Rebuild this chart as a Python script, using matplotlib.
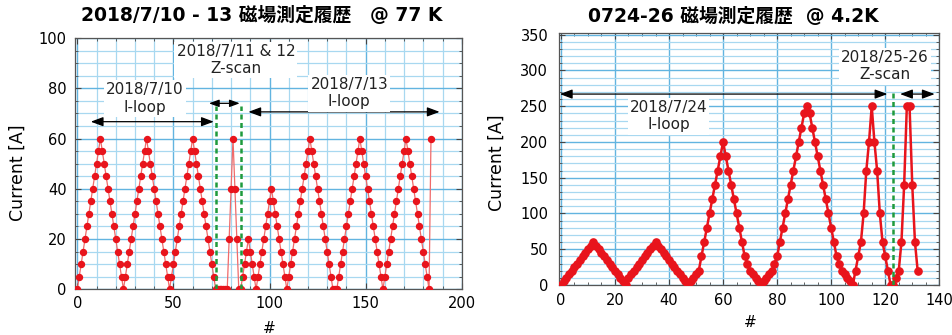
#! /usr/bin/env python3

import numpy as np
import matplotlib
matplotlib.use("Agg")
from matplotlib import pyplot as plt, ticker as mticker

plt.rcParams['font.family'] = ['DejaVu Sans', 'Noto Sans CJK JP']

# --- 2018/7/10 - 13 @ 77 K : current [A] for each measurement # ---
iloop_0710 = [0, 5, 10, 15, 20, 25, 30, 35, 40, 45, 50, 55, 60, 55, 50, 45, 40, 35, 30, 25, 20, 15, 10, 5, 0,
              5, 10, 15, 20, 25, 30, 35, 40, 45, 50, 55, 60, 55, 50, 45, 40, 35, 30, 25, 20, 15, 10, 5, 0,
              5, 10, 15, 20, 25, 30, 35, 40, 45, 50, 55, 60, 55, 50, 45, 40, 35, 30, 25, 20, 15, 10, 5, 0]
zscan_0711 = [0, 0, 0, 0, 0, 0, 20, 40, 60, 40, 20, 0, 0]
iloop_0713 = [5, 10, 15, 20, 15, 10, 5, 0,
              5, 10, 15, 20, 25, 30, 35, 40, 35, 30, 25, 20, 15, 10, 5, 0,
              5, 10, 15, 20, 25, 30, 35, 40, 45, 50, 55, 60, 55, 50, 45, 40, 35, 30, 25, 20, 15, 10, 5, 0, 0, 0,
              5, 10, 15, 20, 25, 30, 35, 40, 45, 50, 55, 60, 55, 50, 45, 40, 35, 30, 25, 20, 15, 10, 5, 0,
              5, 10, 15, 20, 25, 30, 35, 40, 45, 50, 55, 60, 55, 50, 45, 40, 35, 30, 25, 20, 15, 10, 5, 0,
              60]

# --- 0724 - 26 @ 4.2 K ---
iloop_0724 = [0, 5, 10, 15, 20, 25, 30, 35, 40, 45, 50, 55, 60, 55, 50, 45, 40, 35, 30, 25, 20, 15, 10, 5, 0,
              10, 15, 20, 25, 30, 35, 40, 45, 50, 55, 60, 55, 50, 45, 40, 35, 30, 25, 20, 15, 10, 5, 0,
              5, 10, 15, 20, 40, 60, 80, 100, 120, 140, 160, 180, 200,
              180, 160, 140, 120, 100, 80, 60, 40, 30, 20, 15, 10, 5, 0,
              5, 10, 15, 20, 30, 40, 60, 80, 100, 120, 140, 160, 180, 200, 220, 240, 250,
              240, 220, 200, 180, 160, 140, 120, 100, 80, 60, 40, 30, 20, 15, 10, 5, 0,
              20, 40, 60, 100, 160, 200, 250, 200, 160, 100, 60, 40, 20, 0]
zscan_0725 = [0, 10, 20, 60, 140, 250, 250, 140, 60, 20]

y77 = iloop_0710 + zscan_0711 + iloop_0713
y42 = iloop_0724 + zscan_0725
x77 = np.arange(len(y77))
x42 = np.arange(len(y42))

red = '#e8141c'
grid_light = '#a8d8f0'
grid_dark = '#62b4e0'
green = '#1f9a3c'
arrow_style = '<|-|>,head_length=0.75,head_width=0.28'
box = dict(facecolor='white', edgecolor='none', pad=1.5)

fig = plt.figure(figsize=(9.53, 3.35), dpi=100)
ax1 = fig.add_axes([0.0787, 0.1364, 0.4058, 0.7502])
ax2 = fig.add_axes([0.5869, 0.1493, 0.3987, 0.7513])


def style_axes(ax):
    ax.set_axisbelow(True)
    for sp in ax.spines.values():
        sp.set_color('#555555')
        sp.set_linewidth(0.9)
    ax.tick_params(which='both', direction='in', top=True, right=True, color='#444444', labelsize=10.5)
    ax.tick_params(which='major', length=4)
    ax.tick_params(which='minor', length=2.5)


# ---------------- left: 77 K ----------------
ax = ax1
style_axes(ax)
ax.plot(x77, y77, '-', color='#f06a6a', lw=0.9, zorder=4)
ax.plot(x77, y77, 'o', color=red, ms=4.3, mec=red, zorder=5)
ax.set_xlim(-1.2, 200)
ax.set_ylim(0, 100)
ax.xaxis.set_major_locator(mticker.MultipleLocator(50))
ax.xaxis.set_minor_locator(mticker.MultipleLocator(10))
ax.yaxis.set_major_locator(mticker.MultipleLocator(20))
ax.yaxis.set_minor_locator(mticker.MultipleLocator(5))
ax.grid(which='major', color=grid_dark, lw=1.0)
ax.grid(which='minor', color=grid_light, lw=0.9)
ax.tick_params(axis='x', pad=5)
ax.tick_params(axis='y', pad=6)

for xv in (72.3, 85.0):
    ax.plot([xv, xv], [0, 73], color=green, lw=1.8, ls=(0, (2, 1.4)), zorder=6)

ax.annotate('', xy=(7, 66.7), xytext=(71, 66.7),
            arrowprops=dict(arrowstyle=arrow_style, color='black', lw=0.9, shrinkA=0, shrinkB=0))
ax.annotate('', xy=(68.5, 74), xytext=(84.5, 74),
            arrowprops=dict(arrowstyle='<|-|>,head_length=0.6,head_width=0.22', color='black', lw=0.9,
                            shrinkA=0, shrinkB=0))
ax.annotate('', xy=(89, 70.6), xytext=(188.5, 70.6),
            arrowprops=dict(arrowstyle=arrow_style, color='black', lw=0.9, shrinkA=0, shrinkB=0))

ax.text(35, 76, '2018/7/10\nI-loop', ha='center', va='center', fontsize=11, color='#222222',
        linespacing=1.2, bbox=box, zorder=3)
ax.text(82.5, 91.2, '2018/7/11 & 12\nZ-scan', ha='center', va='center', fontsize=11, color='#222222',
        linespacing=1.2, bbox=box, zorder=3)
ax.text(141.5, 78, '2018/7/13\nI-loop', ha='center', va='center', fontsize=11, color='#222222',
        linespacing=1.2, bbox=box, zorder=3)

fig.text(0.275, 0.953, '2018/7/10 - 13 磁場測定履歴　@ 77 K', ha='center', va='center',
         fontsize=13.5, fontweight='bold')
fig.text(0.019, 0.484, 'Current [A]', rotation=90, ha='center', va='center', fontsize=12.5)
fig.text(0.283, 0.02, '#', ha='center', va='center', fontsize=11)

# ---------------- right: 4.2 K ----------------
ax = ax2
style_axes(ax)
ax.plot(x42, y42, '-o', color=red, lw=1.8, ms=5.2, mec=red, zorder=5)
ax.set_xlim(-0.6, 140)
ax.set_ylim(0, 352)
ax.xaxis.set_major_locator(mticker.MultipleLocator(20))
ax.xaxis.set_minor_locator(mticker.MultipleLocator(5))
ax.yaxis.set_major_locator(mticker.MultipleLocator(50))
ax.yaxis.set_minor_locator(mticker.MultipleLocator(10))
ax.grid(which='major', color=grid_dark, lw=1.0)
ax.grid(which='minor', axis='y', color=grid_light, lw=0.9)
ax.tick_params(axis='x', pad=6)
ax.tick_params(axis='y', pad=8)

ax.plot([123, 123], [0, 270], color=green, lw=1.8, ls=(0, (2, 1.4)), zorder=6)
ax.annotate('', xy=(-0.4, 267), xytext=(120.8, 267),
            arrowprops=dict(arrowstyle=arrow_style, color='black', lw=0.9, shrinkA=0, shrinkB=0))
ax.annotate('', xy=(125.5, 267), xytext=(138.3, 267),
            arrowprops=dict(arrowstyle=arrow_style, color='black', lw=0.9, shrinkA=0, shrinkB=0))

ax.text(39.8, 236, '2018/7/24\nI-loop', ha='center', va='center', fontsize=11, color='#222222',
        linespacing=1.2, bbox=box, zorder=3)
ax.text(119.8, 306, '2018/25-26\nZ-scan', ha='center', va='center', fontsize=11, color='#222222',
        linespacing=1.2, bbox=box, zorder=3)

fig.text(0.770, 0.952, '0724-26 磁場測定履歴  @ 4.2K', ha='center', va='center',
         fontsize=13.5, fontweight='bold')
fig.text(0.521, 0.513, 'Current [A]', rotation=90, ha='center', va='center', fontsize=12.5)
fig.text(0.787, 0.036, '#', ha='center', va='center', fontsize=11)

fig.savefig('out.png', dpi=100)
